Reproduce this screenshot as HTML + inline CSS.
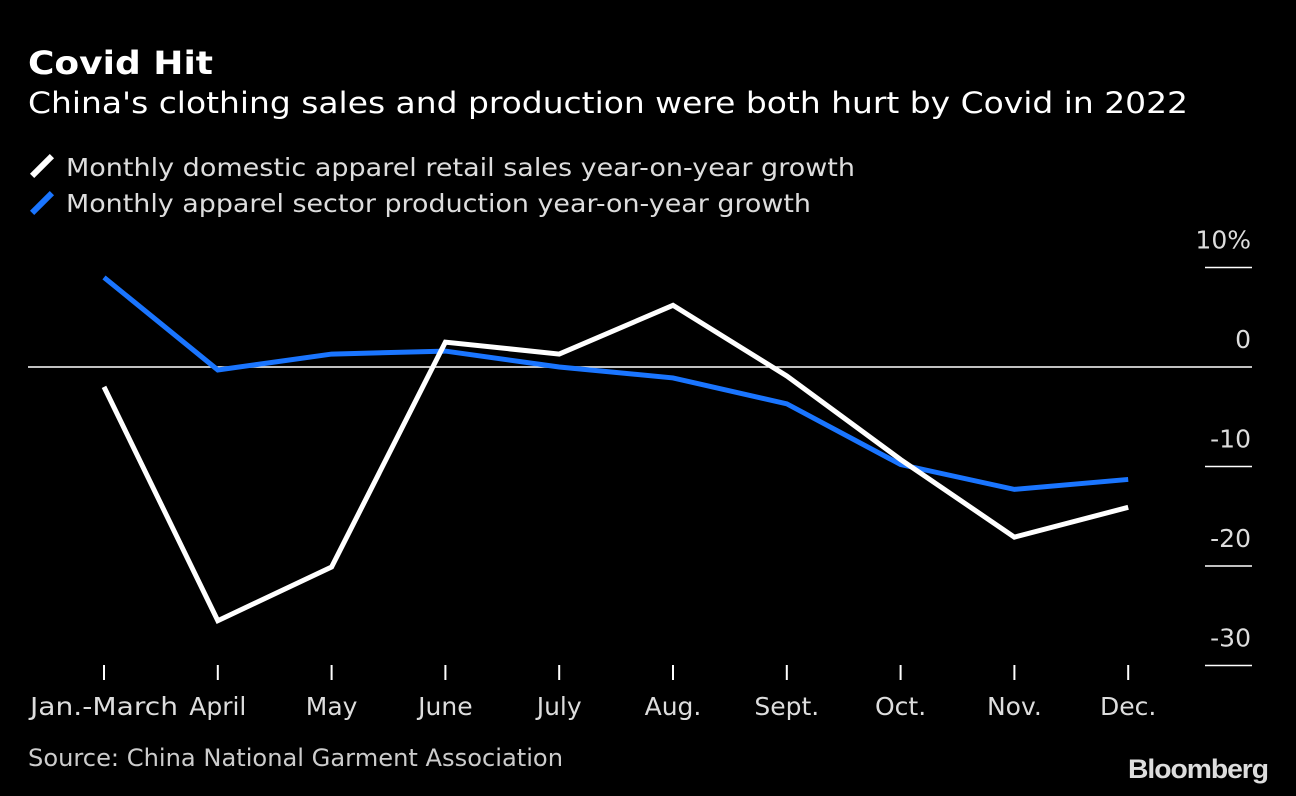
<!DOCTYPE html>
<html><head><meta charset="utf-8"><style>
body{margin:0;background:#000;width:1296px;height:796px;overflow:hidden;font-family:"DejaVu Sans","Liberation Sans",sans-serif;color:#fff}
.t{position:absolute;white-space:nowrap;transform-origin:0 0}
</style></head><body>
<div class="t fit" data-w="185" style="left:28px;top:44px;font-size:32px;font-weight:bold">Covid Hit</div>
<div class="t fit" data-w="1160" style="left:28px;top:86px;font-size:29px">China's clothing sales and production were both hurt by Covid in 2022</div>
<div style="position:absolute;left:39px;top:152px;width:6px;height:28px;background:#fff;transform:rotate(45deg)"></div>
<div class="t fit" data-w="789" style="left:66px;top:153px;font-size:25px;color:#ddd">Monthly domestic apparel retail sales year-on-year growth</div>
<div style="position:absolute;left:39px;top:189px;width:6px;height:28px;background:#1a75ff;transform:rotate(45deg)"></div>
<div class="t fit" data-w="745" style="left:66px;top:189px;font-size:25px;color:#ddd">Monthly apparel sector production year-on-year growth</div>
<svg id="chart" width="1296" height="796" style="position:absolute;left:0;top:0"></svg>
<div class="t fit" data-w="535" style="left:28px;top:744px;font-size:24px;color:#ccc">Source: China National Garment Association</div>
<div class="t fit" data-w="140" style="left:1128px;top:754px;font-size:27px;font-weight:bold;color:#ddd;letter-spacing:-1px;font-family:'Liberation Sans',sans-serif">Bloomberg</div>
<script>
const categories=["Jan.-March","April","May","June","July","Aug.","Sept.","Oct.","Nov.","Dec."];
const salesGrowth=[-2,-25.5,-20.1,2.5,1.3,6.2,-0.9,-9.3,-17.1,-14.1];
const productionGrowth=[9.0,-0.3,1.3,1.6,0,-1.1,-3.7,-9.8,-12.3,-11.3];
const yTicks=[10,0,-10,-20,-30];
const yTickLabels=["10%","0","-10","-20","-30"];
const NS="http://www.w3.org/2000/svg";
const svg=document.getElementById('chart');
const x=i=>104+i*113.8;
const y=v=>367-v*9.95;
function mk(t,a){const e=document.createElementNS(NS,t);for(const k in a)e.setAttribute(k,a[k]);svg.appendChild(e);return e;}
yTicks.forEach((v,i)=>{
  if(v===0){const z=mk('line',{x1:28,x2:1252,y1:y(0),y2:y(0),stroke:'#fff','stroke-width':1.5});
  }
  else{const l=mk('line',{x1:1205,x2:1252,y1:y(v),y2:y(v),stroke:'#fff','stroke-width':1.5});
  }
  const t=mk('text',{x:1251,y:y(v)-19,'text-anchor':'end',fill:'#ddd','font-size':25});
  t.textContent=yTickLabels[i];
  
});
categories.forEach((c,i)=>{
  const l=mk('line',{x1:x(i),x2:x(i),y1:665,y2:680,stroke:'#fff','stroke-width':2});
  
  const t=mk('text',{x:i===0?30:x(i),y:715,'text-anchor':i===0?'start':'middle',fill:'#ddd','font-size':25});
  t.textContent=c;
  if(i===0){t.setAttribute('textLength','148');t.setAttribute('lengthAdjust','spacingAndGlyphs');}
  
});
function line(data,color,name){
  const p=mk('polyline',{points:data.map((v,i)=>x(i)+','+y(v)).join(' '),fill:'none',stroke:color,'stroke-width':5,'stroke-linejoin':'miter'});
  
}
line(productionGrowth,'#1a75ff','production-line');
line(salesGrowth,'#fff','sales-line');
document.querySelectorAll('.fit').forEach(e=>{const w=e.getBoundingClientRect().width;const tw=+e.dataset.w;e.style.transform='scaleX('+(tw/w)+')';});
</script>
</body></html>
